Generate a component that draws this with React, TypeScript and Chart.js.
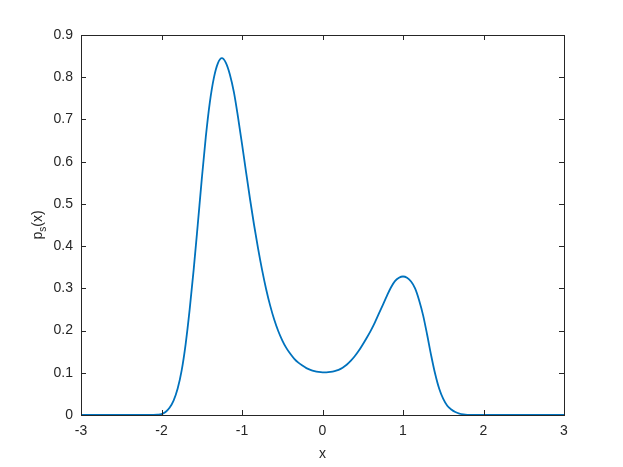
import React, { useEffect, useRef } from "react";
import { Chart, registerables } from "chart.js";

Chart.register(...registerables);

const xValues = [
  -3, -2.5, -2.2, -2.1, -2.05, -2.0, -1.95, -1.9, -1.85, -1.8, -1.75, -1.7, -1.65, -1.6, -1.55, -1.5, -1.45,
  -1.4, -1.35, -1.3, -1.25, -1.2, -1.15, -1.1, -1.05, -1.0, -0.95, -0.9, -0.85, -0.8, -0.75, -0.7, -0.65,
  -0.6, -0.55, -0.5, -0.45, -0.4, -0.35, -0.3, -0.25, -0.2, -0.15, -0.1, -0.05, 0, 0.05, 0.1, 0.15, 0.2,
  0.25, 0.3, 0.35, 0.4, 0.45, 0.5, 0.55, 0.6, 0.65, 0.7, 0.75, 0.8, 0.85, 0.9, 0.95, 1.0, 1.05, 1.1, 1.15,
  1.2, 1.25, 1.3, 1.35, 1.4, 1.45, 1.5, 1.55, 1.6, 1.65, 1.7, 1.75, 1.8, 1.85, 1.9, 2.0, 2.5, 3,
];
const pValues = [
  0, 0, 0, 0.0002, 0.0007, 0.002, 0.007, 0.017, 0.034, 0.062, 0.105, 0.168, 0.25, 0.345, 0.45, 0.558, 0.658,
  0.74, 0.798, 0.833, 0.845, 0.834, 0.806, 0.764, 0.706, 0.642, 0.576, 0.511, 0.45, 0.394, 0.343, 0.298,
  0.259, 0.226, 0.199, 0.177, 0.159, 0.145, 0.133, 0.124, 0.117, 0.111, 0.107, 0.104, 0.102, 0.101, 0.101,
  0.102, 0.104, 0.107, 0.112, 0.119, 0.128, 0.139, 0.152, 0.167, 0.183, 0.2, 0.219, 0.24, 0.261, 0.282,
  0.302, 0.317, 0.325, 0.328, 0.325, 0.316, 0.3, 0.272, 0.236, 0.19, 0.141, 0.097, 0.062, 0.038, 0.022,
  0.013, 0.007, 0.0035, 0.0015, 0.0005, 0.0002, 0, 0, 0, 0,
];
const xTicks = [-3, -2, -1, 0, 1, 2, 3];
const yTicks = [0, 0.1, 0.2, 0.3, 0.4, 0.5, 0.6, 0.7, 0.8, 0.9];

const W = 623;
const H = 467;
const FONT = "Liberation Sans, Arial, Helvetica, sans-serif";
const AXIS = "#262626";

const boxPlugin = {
  id: "matlabBox",
  afterDraw(chart: any) {
    const ctx = chart.ctx;
    const { left, right, top, bottom } = chart.chartArea;
    const xs = chart.scales.x;
    const ys = chart.scales.y;
    ctx.save();
    ctx.strokeStyle = AXIS;
    ctx.lineWidth = 1;
    const tl = 5;
    ctx.beginPath();
    for (const t of xTicks) {
      const px = Math.round(xs.getPixelForValue(t)) + 0.5;
      ctx.moveTo(px, bottom);
      ctx.lineTo(px, bottom - tl);
      ctx.moveTo(px, top);
      ctx.lineTo(px, top + tl);
    }
    for (const t of yTicks) {
      const py = Math.round(ys.getPixelForValue(t)) + 0.5;
      ctx.moveTo(left, py);
      ctx.lineTo(left + tl, py);
      ctx.moveTo(right, py);
      ctx.lineTo(right - tl, py);
    }
    ctx.stroke();
    ctx.strokeRect(Math.round(left) + 0.5, Math.round(top) + 0.5, Math.round(right - left), Math.round(bottom - top));

    // axis titles
    ctx.fillStyle = AXIS;
    ctx.font = `14px ${FONT}`;
    ctx.textAlign = "center";
    ctx.textBaseline = "alphabetic";
    ctx.fillText("x", (left + right) / 2, 458);

    ctx.translate(42, (top + bottom) / 2);
    ctx.rotate(-Math.PI / 2);
    ctx.textAlign = "left";
    const big = `14px ${FONT}`;
    const small = `10px ${FONT}`;
    ctx.font = big;
    const wp = ctx.measureText("p").width;
    ctx.font = small;
    const ws = ctx.measureText("s").width;
    ctx.font = big;
    const wx = ctx.measureText("(x)").width;
    const total = wp + ws + wx;
    let cx = -total / 2;
    ctx.fillText("p", cx, 0);
    cx += wp;
    ctx.font = small;
    ctx.fillText("s", cx, 4);
    cx += ws;
    ctx.font = big;
    ctx.fillText("(x)", cx, 0);
    ctx.restore();
  },
};

export default function App() {
  const ref = useRef<HTMLCanvasElement>(null);
  useEffect(() => {
    if (!ref.current) return;
    const data = xValues.map((x, i) => ({ x, y: pValues[i] }));
    const chart = new Chart(ref.current, {
      type: "line",
      data: {
        datasets: [
          {
            data,
            borderColor: "#0072BD",
            borderWidth: 1.8,
            pointRadius: 0,
            fill: false,
            cubicInterpolationMode: "monotone",
          },
        ],
      },
      options: {
        responsive: false,
        animation: false,
        devicePixelRatio: 1,
        layout: { padding: { left: 0, right: 59, top: 35, bottom: 0 } },
        plugins: { legend: { display: false }, tooltip: { enabled: false } },
        scales: {
          x: {
            type: "linear",
            min: -3,
            max: 3,
            afterBuildTicks: (s: any) => {
              s.ticks = xTicks.map((v) => ({ value: v }));
            },
            afterFit: (s: any) => {
              s.height = 52;
            },
            grid: { display: false, drawTicks: false },
            border: { display: false },
            ticks: {
              padding: 8,
              color: AXIS,
              font: { family: FONT, size: 14 },
              maxRotation: 0,
              callback: (v: any) => String(v),
            },
          },
          y: {
            type: "linear",
            min: 0,
            max: 0.9,
            afterBuildTicks: (s: any) => {
              s.ticks = yTicks.map((v) => ({ value: v }));
            },
            afterFit: (s: any) => {
              s.width = 81;
            },
            grid: { display: false, drawTicks: false },
            border: { display: false },
            ticks: {
              padding: 8,
              color: AXIS,
              font: { family: FONT, size: 14 },
              callback: (v: any) => String(Number(Number(v).toFixed(1))),
            },
          },
        },
      },
      plugins: [boxPlugin],
    });
    return () => chart.destroy();
  }, []);
  return (
    <div style={{ position: "fixed", left: 0, top: 0, width: W, height: H, background: "#fff" }}>
      <canvas ref={ref} width={W} height={H} style={{ width: W, height: H, display: "block" }} />
    </div>
  );
}
